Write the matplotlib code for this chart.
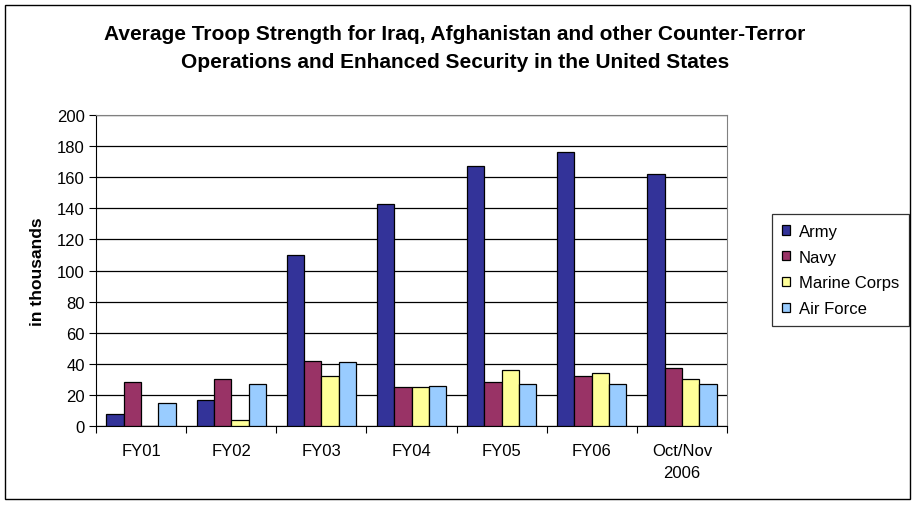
import matplotlib
matplotlib.use("Agg")
import matplotlib.pyplot as plt
import numpy as np

plt.rcParams['font.family'] = ['Liberation Sans', 'DejaVu Sans']

categories = ["FY01", "FY02", "FY03", "FY04", "FY05", "FY06", "Oct/Nov\n2006"]
army = [8, 17, 110, 143, 167, 176, 162]
navy = [28, 30, 42, 25, 28, 32, 37]
marine = [0, 4, 32, 25, 36, 34, 30]
air_force = [15, 27, 41, 26, 27, 27, 27]

series = [("Army", army, "#333399"),
          ("Navy", navy, "#993366"),
          ("Marine Corps", marine, "#FFFF99"),
          ("Air Force", air_force, "#99CCFF")]

fig = plt.figure(figsize=(9.15, 5.06), dpi=100)
# outer chart border
fig.patches.append(plt.Rectangle((0.006, 0.012), 0.988, 0.976, transform=fig.transFigure,
                                 fill=False, edgecolor="black", linewidth=1))

ax = fig.add_axes([96 / 915, 1 - 427 / 506, (727 - 96) / 915, (427 - 116) / 506])

x = np.arange(len(categories))
w = 0.192
for i, (name, vals, col) in enumerate(series):
    ax.bar(x + (i - 1.5) * w, vals, width=w, color=col, edgecolor="black",
           linewidth=0.9, label=name, zorder=3)

ax.set_xlim(-0.5, len(categories) - 0.5)
ax.set_ylim(0, 200)
ax.set_yticks(range(0, 201, 20))
ax.yaxis.grid(True, color="black", linewidth=0.9, zorder=0)
ax.set_axisbelow(True)

# ticks at category boundaries, labels centred on groups
ax.set_xticks(np.arange(-0.5, len(categories), 1))
ax.set_xticklabels([])
ax.set_xticks(x, minor=True)
ax.set_xticklabels(categories, minor=True, fontsize=12, linespacing=1.65)
ax.tick_params(axis="x", which="minor", length=0, pad=12)
ax.tick_params(axis="x", which="major", length=5, direction="out", color="black")
ax.tick_params(axis="y", length=5, direction="out", labelsize=12, pad=3)

for s in ["top", "right"]:
    ax.spines[s].set_color("#808080")
for s in ["left", "bottom"]:
    ax.spines[s].set_color("black")

ax.set_ylabel("in thousands", fontsize=12.5, fontweight="bold", labelpad=9)

fig.text(0.497, 1 - 49 / 506, "Average Troop Strength for Iraq, Afghanistan and other Counter-Terror\n"
         "Operations and Enhanced Security in the United States",
         ha="center", va="center", fontsize=15, fontweight="bold", linespacing=1.6)

leg = ax.legend(loc="center left", bbox_to_anchor=(772 / 915, 1 - 271 / 506),
                bbox_transform=fig.transFigure, frameon=True, fancybox=False,
                edgecolor="black", fontsize=12, handlelength=0.5, handleheight=0.5,
                handletextpad=0.5, labelspacing=0.65, borderpad=0.6, borderaxespad=0)
leg.get_frame().set_linewidth(0.9)

fig.savefig("out.png", dpi=100)
